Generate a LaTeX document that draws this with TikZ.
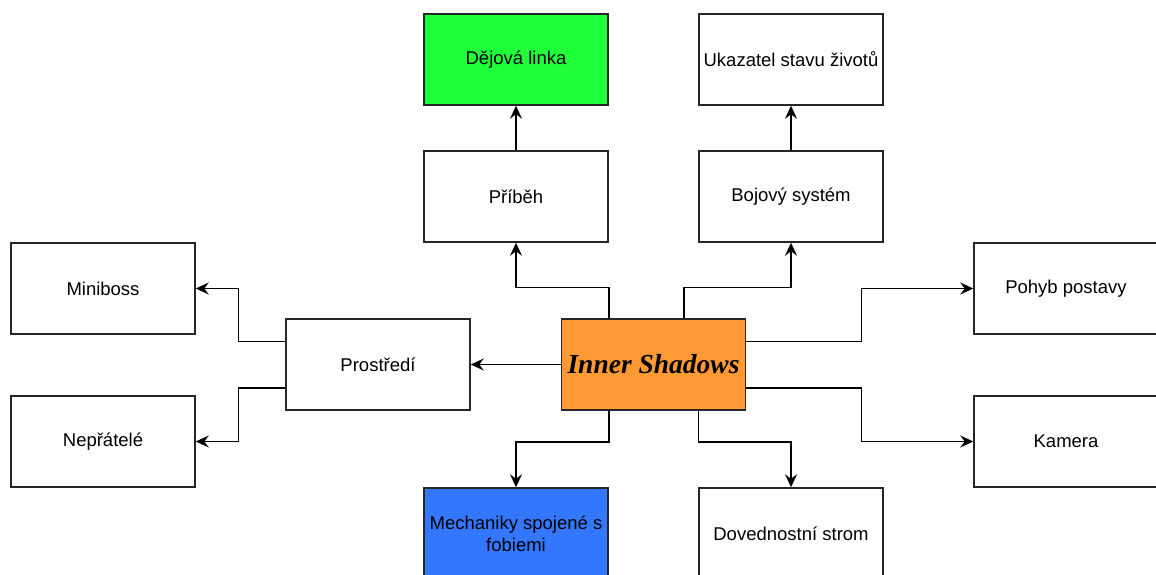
\documentclass[tikz,border=0pt]{standalone}
\usepackage{fontspec}
\setmainfont{Liberation Sans}
\newfontfamily\titlefont{Liberation Serif}
\usetikzlibrary{arrows.meta}
\definecolor{boxgreen}{RGB}{31,255,58}
\definecolor{boxorange}{RGB}{255,153,51}
\definecolor{boxblue}{RGB}{51,119,255}
\tikzset{
  box/.style={draw=black!85, line width=1.5pt, rectangle, minimum width=184pt, minimum height=91pt, inner sep=2pt, align=center, font=\fontsize{18.5}{22}\selectfont, fill=white},
  arr/.style={line width=1.5pt, -{Stealth[length=13pt,width=12pt,inset=4.5pt]}},
}
\begin{document}
\begin{tikzpicture}[x=1pt,y=-1pt]
\useasboundingbox (0,0) rectangle (1156,575);
\clip (0,0) rectangle (1156,575);
\node[box, fill=boxgreen] (dej) at (516,59.5) {Dějová linka};
\node[box] (uka) at (791,59.5) {Ukazatel stavu životů};
\node[box] (pri) at (516,196.5) {Příběh};
\node[box] (boj) at (791,196.5) {Bojový systém};
\node[box] (mini) at (103,288.5) {Miniboss};
\node[box] (proz) at (378,364.5) {Prostředí};
\node[box, fill=boxorange, font=\titlefont\bfseries\itshape\fontsize{27.5}{30}\selectfont] (inner) at (653.5,364.5) {Inner Shadows};
\node[box] (nep) at (103,441.5) {Nepřátelé};
\node[box] (pohyb) at (1066,288.5) {Pohyb postavy};
\node[box] (kam) at (1066,441.5) {Kamera};
\node[box, fill=boxblue] (mech) at (516,533.5) {Mechaniky spojené s\\fobiemi};
\node[box] (dov) at (791,533.5) {Dovednostní strom};

\draw[arr] (pri.north) -- (dej.south);
\draw[arr] (boj.north) -- (uka.south);
\draw[arr] (inner.north -| pri.east) -- ++(0,-31) -| (pri.south);
\draw[arr] ([xshift=30.5pt]inner.north) -- ++(0,-31) -| (boj.south);
\draw[arr] (inner.south -| pri.east) -- ++(0,31) -| (mech.north);
\draw[arr] (inner.south -| dov.west) -- ++(0,31) -| (dov.north);
\draw[arr] ([yshift=-23pt]inner.north east) -- ++(115,0) |- (pohyb.west);
\draw[arr] ([yshift=23pt]inner.south east) -- ++(115,0) |- (kam.west);
\draw[arr] (inner.west) -- (proz.east);
\draw[arr] ([yshift=-23pt]proz.north west) -- ++(-47,0) |- (mini.east);
\draw[arr] ([yshift=23pt]proz.south west) -- ++(-47,0) |- (nep.east);
\end{tikzpicture}
\end{document}
